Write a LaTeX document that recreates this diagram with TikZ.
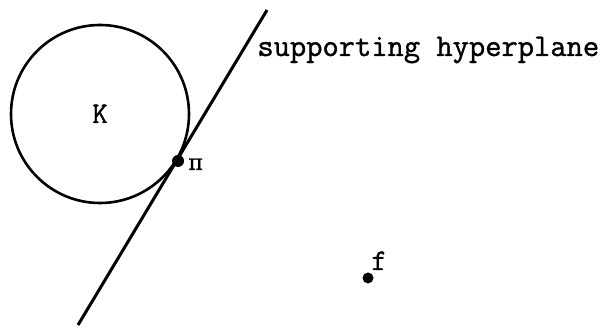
\documentclass[tikz,border=0pt]{standalone}
\usepackage{fontspec}
\newfontfamily\dvs{DejaVu Serif}[FakeBold=1]
\newfontfamily\tw{Latin Modern Mono}[FakeBold=1.2]
\begin{document}
\begin{tikzpicture}[x=0.5pt,y=-0.5pt,
  curve/.style={line width=1.3pt,black},
  dotmark/.style={circle,fill=black,inner sep=0pt,minimum size=6pt},
  lbl/.style={inner sep=0pt,anchor=base west}]
\useasboundingbox (0,0) rectangle (608,330);
\draw[curve] (100,114) circle (89);
\coordinate (lo) at (78,325);
\coordinate (hi) at (267,10);
\draw[curve,line width=1.5pt] (lo) -- (hi);
\node[dotmark] (pi) at (178,161) {};
\node[dotmark,minimum size=5.5pt] (f) at (368,278) {};
\node[lbl,font=\tw\fontsize{15}{17}\selectfont] (K) at (92,123) {K};
\node[lbl,font=\dvs\fontsize{11}{13}\selectfont] (pilabel) at (188,170) {π};
\node[lbl,font=\tw\fontsize{15}{17}\selectfont] (flabel) at (371,270) {f};
\node[lbl,font=\tw\fontsize{15.8}{17}\selectfont] (sh) at (257,56) {supporting hyperplane};
\end{tikzpicture}
\end{document}
